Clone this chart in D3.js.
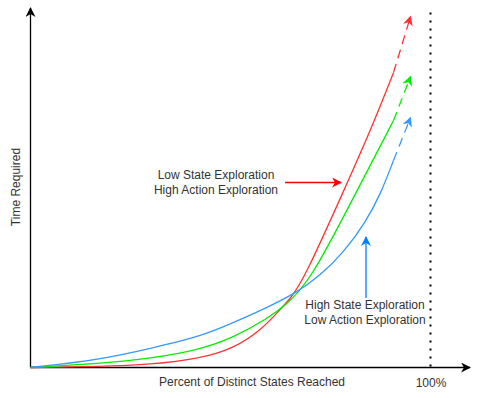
<!DOCTYPE html>
<html>
<head>
<meta charset="utf-8">
<script src="https://cdn.jsdelivr.net/npm/d3@7"></script>
<style>
  body { margin: 0; background: #fff; }
  text { font-family: "Liberation Sans", Arial, sans-serif; font-size: 12px; fill: #333; }
</style>
</head>
<body>
<div id="chart"></div>
<script>
    var width = 479,
      height = 398;

    // percent of distinct states reached (x) and time required (y), 0..100
    var redX = [0, 17.5, 30, 42.5, 50.75, 57.5, 61.75, 65, 68.25, 79.25, 85, 90.75];
    var redY = [0, 0.3, 0.8, 2.5, 5.3, 10.3, 15.3, 19.2, 24.2, 51.4, 65.8, 81.9];
    var redTip = [95, 97.5];

    var greenX = [0, 17.5, 30, 42.5, 50.75, 59.25, 63.75, 70, 80, 90.75];
    var greenY = [0, 1.1, 2.5, 5, 8.3, 13.6, 17.2, 24.2, 45.6, 68.6];
    var greenTip = [95, 80.8];

    var blueX = [0, 17.5, 30, 42.5, 50.75, 59.25, 66.25, 72.5, 78.25, 83.75, 87.5, 90.75];
    var blueY = [0, 2.2, 5.3, 8.6, 12.5, 16.7, 20.6, 25.6, 31.9, 40.3, 48.1, 57.5];
    var blueTip = [95, 69.4];

    var xTicks = [100];
    var xTickLabels = ["100%"];

    var series = [
      {name: "red", color: "#ff3333", xs: redX, ys: redY, tip: redTip},
      {name: "green", color: "#00ee00", xs: greenX, ys: greenY, tip: greenTip},
      {name: "blue", color: "#3399ff", xs: blueX, ys: blueY, tip: blueTip}
    ];

    var x = d3.scaleLinear().domain([0, 100]).range([30.5, 430.5]);
    var y = d3.scaleLinear().domain([0, 100]).range([367.5, 7.5]);

    var svg = d3.select("#chart").append("svg")
      .attr("width", width)
      .attr("height", height);

    var defs = svg.append("defs");
    function marker(id, color, size) {
      defs.append("marker")
        .attr("id", id)
        .attr("viewBox", "0 0 10 10")
        .attr("refX", 9)
        .attr("refY", 5)
        .attr("markerUnits", "userSpaceOnUse")
        .attr("markerWidth", size)
        .attr("markerHeight", size)
        .attr("orient", "auto")
        .append("path")
        .attr("d", "M0,0 L10,5 L0,10 L3,5 Z")
        .attr("fill", color);
    }
    marker("arr-black", "#000", 10);
    series.forEach(function(s) { marker("arr-" + s.name, s.color, 10); });
    marker("arr-red2", "#ff0000", 10);
    marker("arr-blue2", "#007fff", 10);

    // axes
    svg.append("line")
      .attr("x1", x(0)).attr("y1", y(0))
      .attr("x2", x(0)).attr("y2", 8)
      .attr("stroke", "#000").attr("stroke-width", 1.3)
      .attr("marker-end", "url(#arr-black)");
    svg.append("line")
      .attr("x1", x(0)).attr("y1", y(0))
      .attr("x2", 470).attr("y2", y(0))
      .attr("stroke", "#000").attr("stroke-width", 1.3)
      .attr("marker-end", "url(#arr-black)");

    // 100% dotted line
    svg.append("line")
      .attr("x1", x(100)).attr("y1", y(0) - 1)
      .attr("x2", x(100)).attr("y2", 12)
      .attr("stroke", "#000").attr("stroke-width", 2)
      .attr("stroke-dasharray", "2,6");

    var xAxis = d3.axisBottom(x)
      .tickValues(xTicks)
      .tickSize(0)
      .tickFormat(function(d, i) { return xTickLabels[i]; });
    var gx = svg.append("g")
      .attr("transform", "translate(0," + y(0) + ")")
      .call(xAxis);
    gx.select(".domain").remove();
    gx.selectAll("text")
      .attr("dy", null)
      .attr("y", 19)
      .style("font-family", "Liberation Sans, Arial, sans-serif")
      .style("font-size", "12px")
      .attr("fill", "#333");

    svg.append("text")
      .attr("x", 252).attr("y", 386)
      .attr("text-anchor", "middle")
      .text("Percent of Distinct States Reached");

    svg.append("text")
      .attr("transform", "translate(20,187) rotate(-90)")
      .attr("text-anchor", "middle")
      .text("Time Required");

    var line = d3.line()
      .curve(d3.curveBasis)
      .x(function(d) { return x(d[0]); })
      .y(function(d) { return y(d[1]); });

    series.forEach(function(s) {
      var pts = s.xs.map(function(v, i) { return [v, s.ys[i]]; });
      svg.append("path")
        .datum(pts)
        .attr("d", line)
        .attr("fill", "none")
        .attr("stroke", s.color)
        .attr("stroke-width", 1.3);
      var last = pts[pts.length - 1];
      svg.append("line")
        .attr("x1", x(last[0])).attr("y1", y(last[1]))
        .attr("x2", x(s.tip[0])).attr("y2", y(s.tip[1]))
        .attr("stroke", s.color)
        .attr("stroke-width", 1.3)
        .attr("stroke-dasharray", "9,6")
        .attr("marker-end", "url(#arr-" + s.name + ")");
    });

    // annotations
    svg.append("line")
      .attr("x1", 285).attr("y1", 182.5)
      .attr("x2", 341).attr("y2", 182.5)
      .attr("stroke", "#ff0000").attr("stroke-width", 1.3)
      .attr("marker-end", "url(#arr-red2)");
    svg.append("text")
      .attr("x", 216).attr("y", 179)
      .attr("text-anchor", "middle")
      .text("Low State Exploration");
    svg.append("text")
      .attr("x", 216).attr("y", 194)
      .attr("text-anchor", "middle")
      .text("High Action Exploration");

    svg.append("line")
      .attr("x1", 366).attr("y1", 298)
      .attr("x2", 366).attr("y2", 237)
      .attr("stroke", "#007fff").attr("stroke-width", 1.3)
      .attr("marker-end", "url(#arr-blue2)");
    svg.append("text")
      .attr("x", 365).attr("y", 309)
      .attr("text-anchor", "middle")
      .text("High State Exploration");
    svg.append("text")
      .attr("x", 365).attr("y", 324)
      .attr("text-anchor", "middle")
      .text("Low Action Exploration");
</script>
</body>
</html>
